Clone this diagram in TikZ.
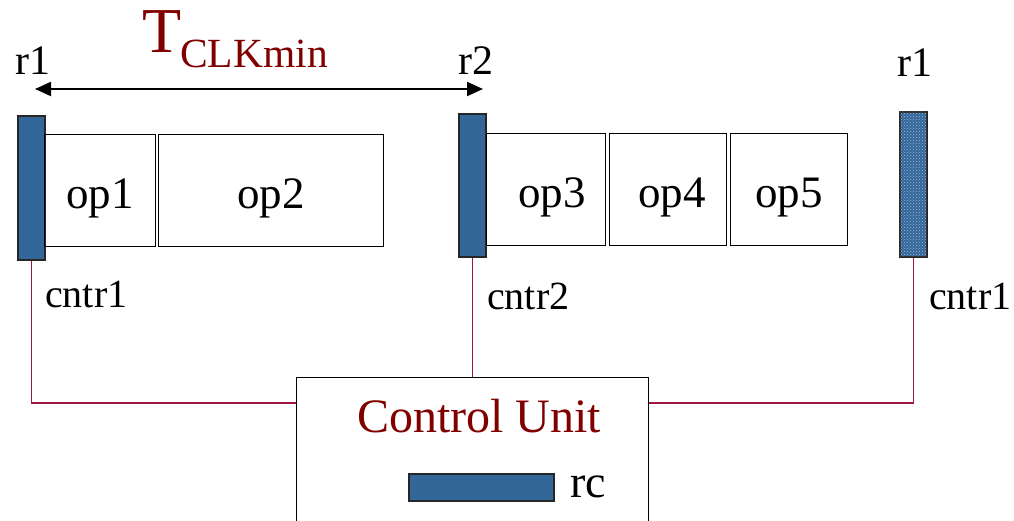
\documentclass[tikz,border=0pt]{standalone}
\usepackage{fontspec}
\setmainfont{Liberation Serif}
\usetikzlibrary{arrows.meta,patterns}
\definecolor{regblue}{RGB}{51,102,153}
\definecolor{darkred}{RGB}{128,0,0}
\definecolor{wirec}{RGB}{160,20,74}
\begin{document}
\begin{tikzpicture}[x=1pt,y=-1pt,
  reg/.style={draw=black!85, line width=1.6pt, fill=regblue, minimum width=27pt, inner sep=0pt, anchor=north west},
  opbox/.style={draw, line width=1.4pt, inner sep=0pt, minimum height=112pt, anchor=north west, text height=44pt, text depth=9pt, font=\fontsize{45}{48}\selectfont},
  lbl/.style={inner sep=0pt, anchor=base west, font=\fontsize{40}{48}\selectfont},
  wire/.style={draw=wirec, line width=1.3pt}]
\useasboundingbox (0,0) rectangle (1014,520);
% registers
\node[reg, minimum height=144pt] (r1a) at (17,115) {};
\node[reg, minimum height=143pt] (r2) at (458,113) {};
\node[reg, minimum height=145pt, postaction={pattern=crosshatch dots, pattern color=white!55!regblue}] (r1b) at (899,111) {};
% operation boxes
\node[opbox, minimum width=111pt] (op1) at (44,134) {op1};
\node[opbox, minimum width=225pt] (op2) at (158,134) {op2};
\node[opbox, minimum width=119pt] (op3) at (486,133) {\hspace{12pt}op3};
\node[opbox, minimum width=117pt] (op4) at (609,133) {\hspace{8pt}op4};
\node[opbox, minimum width=117pt] (op5) at (730,133) {op5};
% labels
\node[lbl, font=\fontsize{42}{48}\selectfont] (l1) at (15,74) {r1};
\node[lbl, font=\fontsize{42}{48}\selectfont] (l2) at (458,74) {r2};
\node[lbl, font=\fontsize{42}{48}\selectfont] (l3) at (897,76) {r1};
\node[lbl] (c1) at (45,307) {cntr1};
\node[lbl] (c2) at (487,309) {cntr2};
\node[lbl] (c3) at (929,309) {cntr1};
\node[lbl, text=darkred, font=\fontsize{64}{66}\selectfont] (T) at (142,52) {T};
\node[lbl, text=darkred, font=\fontsize{41.5}{44}\selectfont] (Tsub) at (180,67) {CLKmin};
% arrow
\coordinate (aL) at (35,89);
\coordinate (aR) at (483,89);
\draw[line width=2pt, {Triangle[length=16pt,width=14pt]}-{Triangle[length=16pt,width=14pt]}] (aL) -- (aR);
% control unit
\node[draw, line width=1.4pt, minimum width=352pt, minimum height=160pt, anchor=north west, inner sep=0pt] (CU) at (296,377) {};
\node[lbl, text=darkred, font=\fontsize{48}{50}\selectfont] (cut) at (357,432) {Control Unit};
\node[draw=black!85, line width=1.5pt, fill=regblue, minimum width=145pt, minimum height=27pt, anchor=north west, inner sep=0pt] (rc) at (408,473) {};
\node[lbl, font=\fontsize{46}{50}\selectfont] (rcl) at (570,497) {rc};
% wires
\draw[wire] (r1a.south) |- ([yshift=-26pt]CU.north west);
\draw[wire] (r2.south) -- (r2.south |- CU.north);
\draw[wire] (r1b.south) |- ([yshift=-26pt]CU.north east);
\end{tikzpicture}
\end{document}
